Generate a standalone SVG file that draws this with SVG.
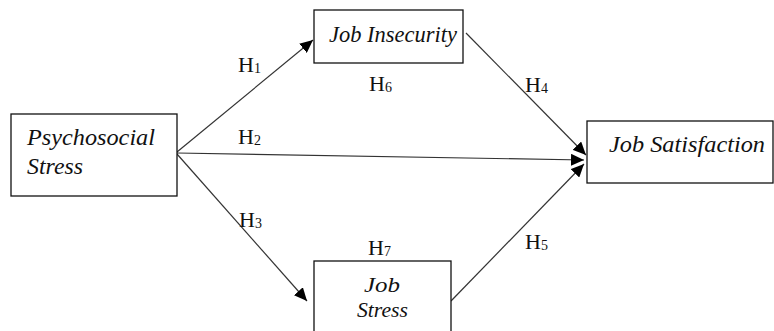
<svg xmlns="http://www.w3.org/2000/svg" width="774" height="331" viewBox="0 0 774 331">
  <defs>
    <marker id="arr" markerUnits="userSpaceOnUse" markerWidth="14" markerHeight="12" refX="13" refY="6" orient="auto">
      <path d="M0,0 L13,6 L0,12 Z" fill="#000"/>
    </marker>
    <style>
      .box { fill: #fff; stroke: #111; stroke-width: 1.3; }
      .lbl { font-family: "Liberation Serif", "Times New Roman", serif; font-style: italic; font-size: 24px; fill: #111; }
      .sm { font-size: 21px; }
      .h { font-family: "Liberation Serif", "Times New Roman", serif; font-size: 22px; fill: #111; }
      .sub { font-size: 14px; }
      .conn line { stroke: #333; stroke-width: 1.2; marker-end: url(#arr); }
    </style>
  </defs>
  <rect width="774" height="331" fill="#fff"/>

  <g id="connectors" class="conn">
    <line x1="177" y1="152" x2="313" y2="40"/>
    <line x1="177" y1="153" x2="584" y2="160"/>
    <line x1="177" y1="154" x2="307" y2="301"/>
    <line x1="466" y1="33" x2="586" y2="155"/>
    <line x1="451" y1="301" x2="584" y2="164"/>
  </g>

  <g id="psychosocial-stress">
    <rect class="box" x="11" y="114" width="166" height="82"/>
    <text class="lbl" x="27" y="145" textLength="128" lengthAdjust="spacingAndGlyphs">Psychosocial</text>
    <text class="lbl" x="27" y="174" textLength="56" lengthAdjust="spacingAndGlyphs">Stress</text>
  </g>

  <g id="job-insecurity">
    <rect class="box" x="314" y="10" width="149" height="53"/>
    <text class="lbl" x="329" y="42" textLength="128" lengthAdjust="spacingAndGlyphs">Job Insecurity</text>
  </g>

  <g id="job-satisfaction">
    <rect class="box" x="587" y="121" width="186" height="62"/>
    <text class="lbl" x="609" y="152" textLength="156" lengthAdjust="spacingAndGlyphs">Job Satisfaction</text>
  </g>

  <g id="job-stress">
    <rect class="box" x="314" y="261" width="137" height="80"/>
    <text class="lbl sm" x="364" y="292" textLength="36" lengthAdjust="spacingAndGlyphs">Job</text>
    <text class="lbl sm" x="357" y="317" textLength="51" lengthAdjust="spacingAndGlyphs">Stress</text>
  </g>

  <g id="labels">
    <text class="h" x="238" y="72">H<tspan class="sub" dy="1">1</tspan></text>
    <text class="h" x="238" y="144">H<tspan class="sub" dy="1">2</tspan></text>
    <text class="h" x="239" y="227">H<tspan class="sub" dy="1">3</tspan></text>
    <text class="h" x="525" y="92">H<tspan class="sub" dy="1">4</tspan></text>
    <text class="h" x="525" y="249">H<tspan class="sub" dy="1">5</tspan></text>
    <text class="h" x="369" y="91">H<tspan class="sub" dy="1">6</tspan></text>
    <text class="h" x="368" y="255">H<tspan class="sub" dy="1">7</tspan></text>
  </g>
</svg>
